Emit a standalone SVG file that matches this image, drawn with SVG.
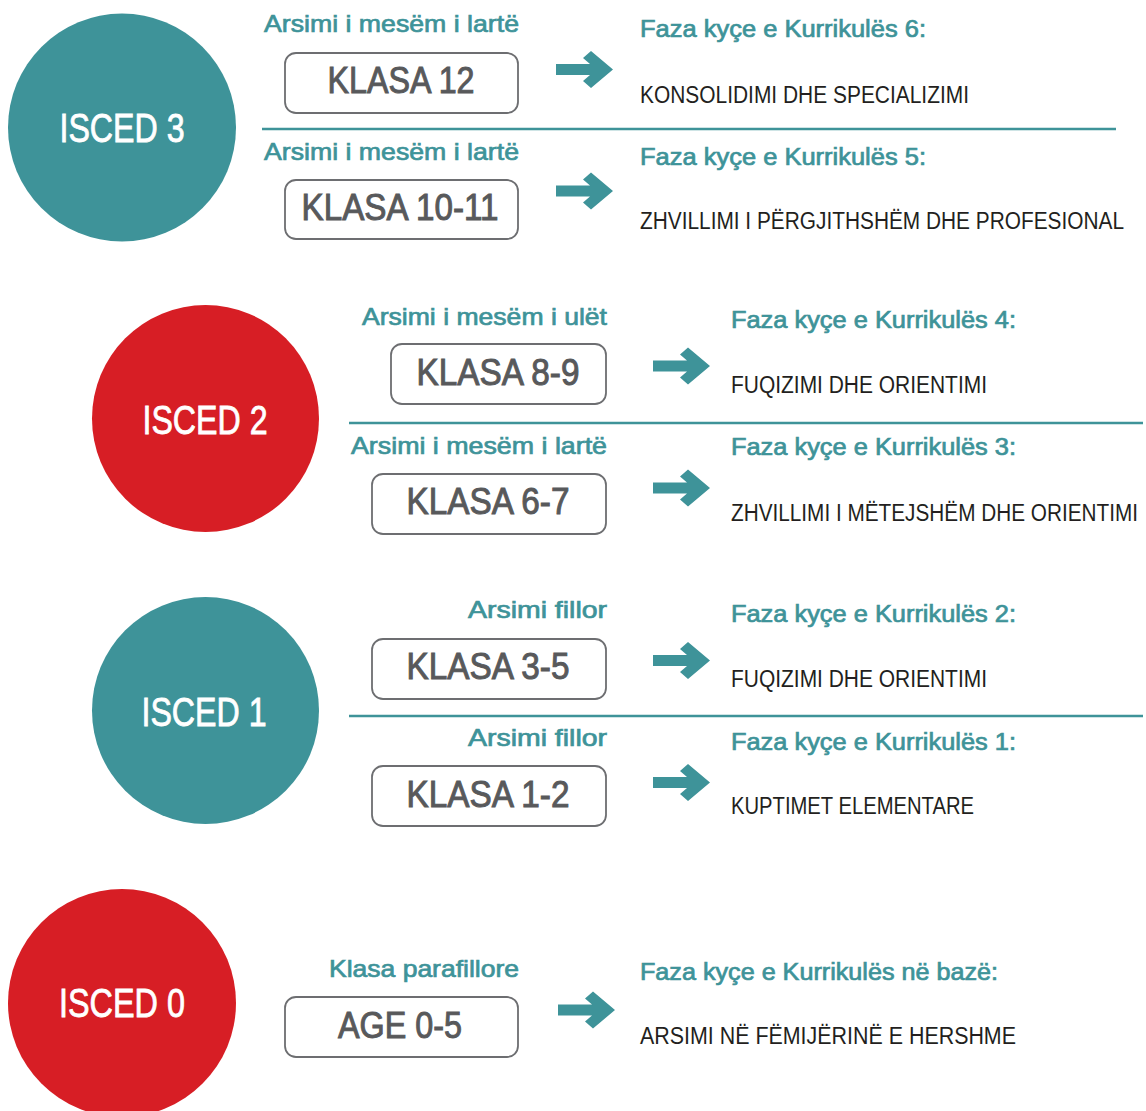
<svg xmlns="http://www.w3.org/2000/svg" width="1146" height="1111" viewBox="0 0 1146 1111">
<defs>
<style>
text{font-family:"Liberation Sans Narrow","Liberation Sans",Arial,sans-serif;}
.circ-teal{fill:#3e9399;}
.circ-red{fill:#d71e25;}
.isced{fill:#ffffff;stroke:#ffffff;stroke-width:0.8;font-size:40px;text-anchor:middle;}
.box{fill:#ffffff;stroke:#6d6e71;stroke-width:1.8;}
.klasa{fill:#58595b;stroke:#58595b;stroke-width:1;font-size:37px;text-anchor:middle;}
.lvl{fill:#3e9399;stroke:#3e9399;stroke-width:0.7;font-size:24px;text-anchor:end;}
.faza{fill:#3e9399;stroke:#3e9399;stroke-width:0.7;font-size:23px;}
.desc{fill:#231f20;font-size:23px;}
.desc-long{fill:#231f20;font-size:20px;}
.sep{stroke:#3e9399;stroke-width:2.5;fill:none;}
.arr{fill:#3e9399;}
</style>
<path id="arrow" d="M-57,-5.5 L-23,-5.5 L-30,-11.5 L-22,-18.5 L0,0 L-22,18.5 L-30,11.5 L-23,5.5 L-57,5.5 Z"/>
</defs>
<rect width="1146" height="1111" fill="#ffffff"/>

<g id="isced3">
<circle class="circ-teal" cx="122" cy="127.5" r="114"/>
<text class="isced" x="122" y="142" textLength="125" lengthAdjust="spacingAndGlyphs">ISCED 3</text>
</g>
<g id="isced2">
<circle class="circ-red" cx="205.5" cy="418.5" r="113.5"/>
<text class="isced" x="205" y="434" textLength="125" lengthAdjust="spacingAndGlyphs">ISCED 2</text>
</g>
<g id="isced1">
<circle class="circ-teal" cx="205.5" cy="710.5" r="113.5"/>
<text class="isced" x="204" y="726" textLength="125" lengthAdjust="spacingAndGlyphs">ISCED 1</text>
</g>
<g id="isced0">
<circle class="circ-red" cx="122" cy="1003" r="114"/>
<text class="isced" x="122" y="1017" textLength="126" lengthAdjust="spacingAndGlyphs">ISCED 0</text>
</g>

<g id="separators">
<line class="sep" x1="262" y1="129" x2="1116" y2="129"/>
<line class="sep" x1="349" y1="423" x2="1143" y2="423"/>
<line class="sep" x1="349" y1="716" x2="1143" y2="716"/>
</g>

<g id="klasa12">
<text class="lvl" x="519" y="32" textLength="255" lengthAdjust="spacingAndGlyphs">Arsimi i mesëm i lartë</text>
<rect class="box" x="285" y="53" width="233" height="60" rx="11"/>
<text class="klasa" x="401" y="93" textLength="147" lengthAdjust="spacingAndGlyphs">KLASA 12</text>
</g>
<g id="faza6">
<text class="faza" x="640" y="37" textLength="286" lengthAdjust="spacingAndGlyphs">Faza kyçe e Kurrikulës 6:</text>
<text class="desc" x="640" y="103" textLength="329" lengthAdjust="spacingAndGlyphs">KONSOLIDIMI DHE SPECIALIZIMI</text>
</g>

<g id="klasa10-11">
<text class="lvl" x="519" y="160" textLength="255" lengthAdjust="spacingAndGlyphs">Arsimi i mesëm i lartë</text>
<rect class="box" x="285" y="180" width="233" height="59" rx="11"/>
<text class="klasa" x="400" y="220" textLength="197" lengthAdjust="spacingAndGlyphs">KLASA 10-11</text>
</g>
<g id="faza5">
<text class="faza" x="640" y="165" textLength="286" lengthAdjust="spacingAndGlyphs">Faza kyçe e Kurrikulës 5:</text>
<text class="desc-long" transform="translate(640,229) scale(1,1.15)" x="0" y="0" textLength="484" lengthAdjust="spacingAndGlyphs">ZHVILLIMI I PËRGJITHSHËM DHE PROFESIONAL</text>
</g>

<g id="klasa8-9">
<text class="lvl" x="607" y="325" textLength="245" lengthAdjust="spacingAndGlyphs">Arsimi i mesëm i ulët</text>
<rect class="box" x="391" y="344" width="215" height="60" rx="11"/>
<text class="klasa" x="498" y="385" textLength="163" lengthAdjust="spacingAndGlyphs">KLASA 8-9</text>
</g>
<g id="faza4">
<text class="faza" x="731" y="328" textLength="285" lengthAdjust="spacingAndGlyphs">Faza kyçe e Kurrikulës 4:</text>
<text class="desc" x="731" y="393" textLength="256" lengthAdjust="spacingAndGlyphs">FUQIZIMI DHE ORIENTIMI</text>
</g>

<g id="klasa6-7">
<text class="lvl" x="607" y="454" textLength="256" lengthAdjust="spacingAndGlyphs">Arsimi i mesëm i lartë</text>
<rect class="box" x="372" y="474" width="234" height="60" rx="11"/>
<text class="klasa" x="488" y="514" textLength="163" lengthAdjust="spacingAndGlyphs">KLASA 6-7</text>
</g>
<g id="faza3">
<text class="faza" x="731" y="455" textLength="285" lengthAdjust="spacingAndGlyphs">Faza kyçe e Kurrikulës 3:</text>
<text class="desc-long" transform="translate(731,521) scale(1,1.15)" x="0" y="0" textLength="407" lengthAdjust="spacingAndGlyphs">ZHVILLIMI I MËTEJSHËM DHE ORIENTIMI</text>
</g>

<g id="klasa3-5">
<text class="lvl" x="607" y="618" textLength="139" lengthAdjust="spacingAndGlyphs">Arsimi fillor</text>
<rect class="box" x="372" y="639" width="234" height="60" rx="11"/>
<text class="klasa" x="488" y="679" textLength="163" lengthAdjust="spacingAndGlyphs">KLASA 3-5</text>
</g>
<g id="faza2">
<text class="faza" x="731" y="622" textLength="285" lengthAdjust="spacingAndGlyphs">Faza kyçe e Kurrikulës 2:</text>
<text class="desc" x="731" y="687" textLength="256" lengthAdjust="spacingAndGlyphs">FUQIZIMI DHE ORIENTIMI</text>
</g>

<g id="klasa1-2">
<text class="lvl" x="607" y="746" textLength="139" lengthAdjust="spacingAndGlyphs">Arsimi fillor</text>
<rect class="box" x="372" y="766" width="234" height="60" rx="11"/>
<text class="klasa" x="488" y="807" textLength="163" lengthAdjust="spacingAndGlyphs">KLASA 1-2</text>
</g>
<g id="faza1">
<text class="faza" x="731" y="750" textLength="285" lengthAdjust="spacingAndGlyphs">Faza kyçe e Kurrikulës 1:</text>
<text class="desc" x="731" y="814" textLength="243" lengthAdjust="spacingAndGlyphs">KUPTIMET ELEMENTARE</text>
</g>

<g id="age0-5">
<text class="lvl" x="519" y="977" textLength="190" lengthAdjust="spacingAndGlyphs">Klasa parafillore</text>
<rect class="box" x="285" y="997" width="233" height="60" rx="11"/>
<text class="klasa" x="400" y="1038" textLength="124" lengthAdjust="spacingAndGlyphs">AGE 0-5</text>
</g>
<g id="faza0">
<text class="faza" x="640" y="980" textLength="358" lengthAdjust="spacingAndGlyphs">Faza kyçe e Kurrikulës në bazë:</text>
<text class="desc" x="640" y="1044" textLength="376" lengthAdjust="spacingAndGlyphs">ARSIMI NË FËMIJËRINË E HERSHME</text>
</g>

<g id="connectors">
<use href="#arrow" class="arr" x="613" y="69.5"/>
<use href="#arrow" class="arr" x="613" y="191"/>
<use href="#arrow" class="arr" x="710" y="366"/>
<use href="#arrow" class="arr" x="710" y="488"/>
<use href="#arrow" class="arr" x="710" y="660.5"/>
<use href="#arrow" class="arr" x="710" y="782.5"/>
<use href="#arrow" class="arr" x="615" y="1010"/>
</g>
</svg>
